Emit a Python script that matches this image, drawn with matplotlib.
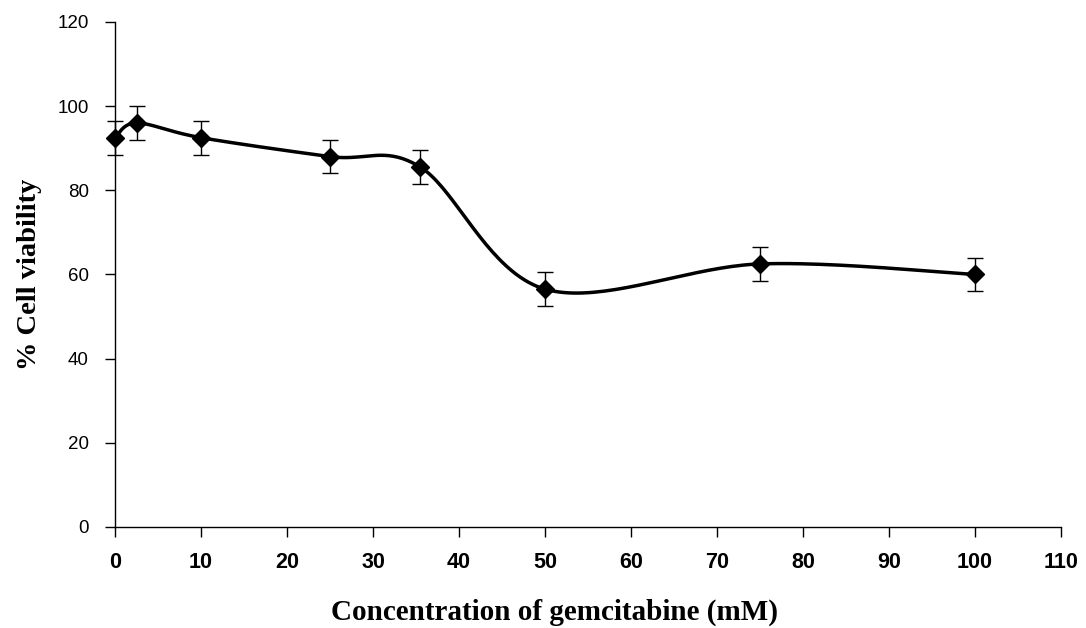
import numpy as np
import matplotlib
matplotlib.use("Agg")
import matplotlib.pyplot as plt

# concentration (mM) vs % cell viability
conc = [0, 2.5, 10, 25, 35.5, 50, 75, 100]
viability = [92.5, 96, 92.5, 88, 85.5, 56.5, 62.5, 60]
err = [4, 4, 4, 4, 4, 4, 4, 4]

xticks = list(range(0, 111, 10))
yticks = list(range(0, 121, 20))


def smooth_curve(x, y, n=40):
    # Excel-like smoothed line: cardinal spline as cubic bezier segments
    x = np.asarray(x, float)
    y = np.asarray(y, float)
    pts = np.column_stack([x, y])
    ext = np.vstack([pts[0], pts, pts[-1]])
    t = np.linspace(0, 1, n)[:, None]
    out = []
    for i in range(len(pts) - 1):
        p0, p1, p2, p3 = ext[i], ext[i + 1], ext[i + 2], ext[i + 3]
        c1 = p1 + (p2 - p0) / 6
        c2 = p2 - (p3 - p1) / 6
        seg = ((1 - t) ** 3) * p1 + 3 * ((1 - t) ** 2) * t * c1 \
            + 3 * (1 - t) * t ** 2 * c2 + t ** 3 * p2
        out.append(seg)
    out = np.vstack(out)
    return out[:, 0], out[:, 1]


fig = plt.figure(figsize=(10.86, 6.28), dpi=100)
ax = fig.add_axes([0.106, 0.161, 0.871, 0.804])

sx, sy = smooth_curve(conc, viability)
ax.plot(sx, sy, color="black", lw=2.5, zorder=2, clip_on=False)
eb = ax.errorbar(conc, viability, yerr=err, fmt="none", ecolor="black",
                 elinewidth=1.0, capsize=6, capthick=1.0, zorder=3)
for art in eb.lines[1] + eb.lines[2]:
    art.set_clip_on(False)
ax.plot(conc, viability, linestyle="none", marker="D", markersize=9,
        color="black", zorder=4, clip_on=False)

ax.set_xlim(0, 110)
ax.set_ylim(0, 120)
ax.set_xticks(xticks)
ax.set_yticks(yticks)
ax.spines["top"].set_visible(False)
ax.spines["right"].set_visible(False)
ax.spines["left"].set_linewidth(1.0)
ax.spines["bottom"].set_linewidth(1.0)
ax.tick_params(axis="both", direction="out", length=7, width=1.0)
ax.tick_params(axis="x", pad=11)
ax.tick_params(axis="y", pad=12)

for lab in ax.get_xticklabels():
    lab.set_fontfamily("Liberation Sans")
    lab.set_fontweight("bold")
    lab.set_fontsize(15.5)
for lab in ax.get_yticklabels():
    lab.set_fontfamily("Liberation Sans")
    lab.set_fontsize(13.5)

ax.set_xlabel("Concentration of gemcitabine (mM)", family="Liberation Serif",
              fontweight="bold", fontsize=21)
ax.set_ylabel("% Cell viability", family="Liberation Serif",
              fontweight="bold", fontsize=20.5)
ax.xaxis.set_label_coords(0.465, -0.142)
ax.yaxis.set_label_coords(-0.077, 0.5)

fig.savefig("out.png", dpi=100)
